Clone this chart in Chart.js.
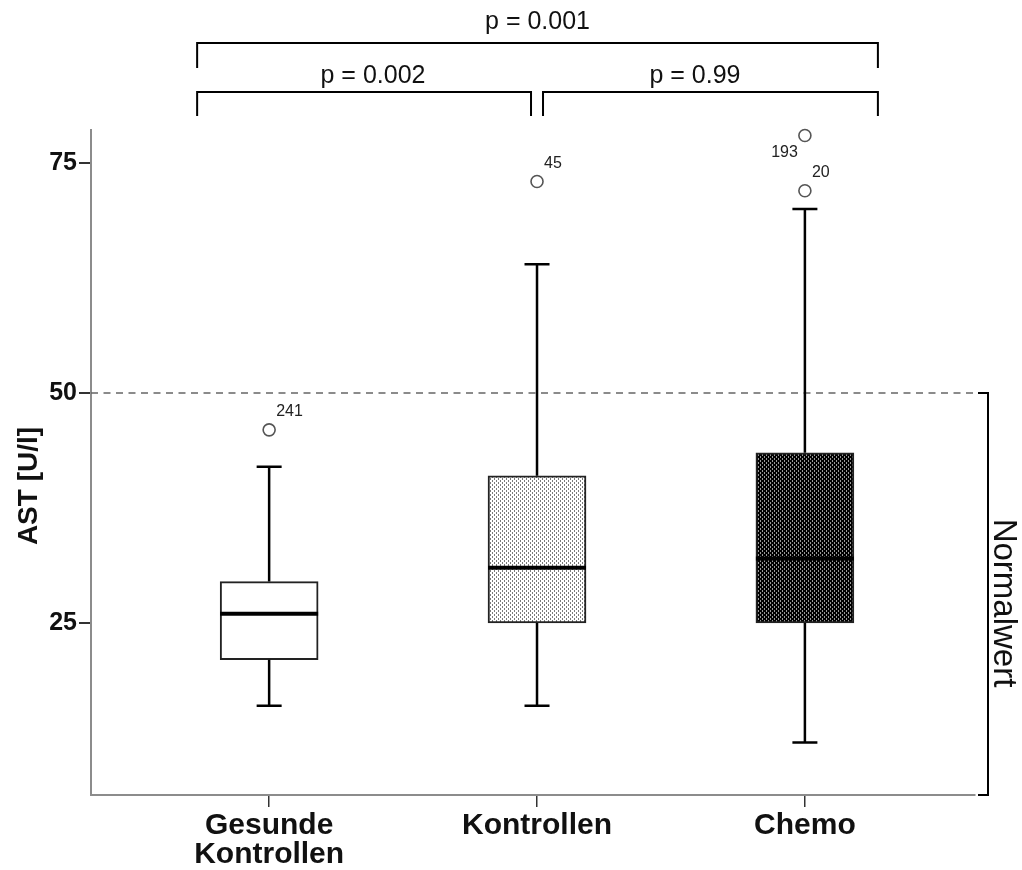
<!DOCTYPE html>
<html><head><meta charset="utf-8">
<script src="https://cdn.jsdelivr.net/npm/chart.js@4.4.1/dist/chart.umd.min.js"></script>
<style>html,body{margin:0;padding:0;background:#fff;}#wrap{width:1022px;height:870px;position:relative;}</style>
</head><body><div id="wrap"><canvas id="c" width="1022" height="870"></canvas></div>
<script>
// ---- data ----
const categories = [['Gesunde', 'Kontrollen'], 'Kontrollen', 'Chemo'];
const whiskerLow = [16, 16, 12];
const q1 = [21, 25, 25];
const median = [26, 31, 32];
const q3 = [29.5, 41, 43.5];
const whiskerHigh = [42, 64, 70];
const outlierGroup = [1, 2, 3, 3];
const outlierValue = [46, 73, 78, 72];
const outlierId = ['241', '45', '193', '20'];
const yTicks = [25, 50, 75];
const normalLimit = 50;
const normalLabel = 'Normalwert';
const comparisons = [[1, 3], [1, 2], [2, 3]];
const pValues = ['p = 0.001', 'p = 0.002', 'p = 0.99'];
const yTitle = 'AST [U/l]';

// ---- styles ----
const FONT = '"Liberation Sans", Arial, sans-serif';
function makePattern(bg, dot) {
  const t = document.createElement('canvas');
  t.width = 4; t.height = 4;
  const g = t.getContext('2d');
  g.fillStyle = bg; g.fillRect(0, 0, 4, 4);
  g.fillStyle = dot;
  g.fillRect(0, 0, 1, 2);
  g.fillRect(2, 2, 1, 2);
  return document.getElementById('c').getContext('2d').createPattern(t, 'repeat');
}
const boxFills = ['#ffffff', makePattern('#ffffff', '#7a7a7a'), makePattern('#000000', '#9a9a9a')];
const labelSide = ['ne', 'ne', 'sw', 'ne'];

const extras = {
  id: 'extras',
  beforeDatasetsDraw(chart) {
    const { ctx, chartArea: a, scales: { y } } = chart;
    const yy = y.getPixelForValue(normalLimit);
    ctx.save();
    ctx.strokeStyle = '#666'; ctx.lineWidth = 1.5; ctx.setLineDash([7, 5.5]);
    ctx.beginPath(); ctx.moveTo(a.left, yy); ctx.lineTo(a.right, yy); ctx.stroke();
    ctx.restore();
  },
  afterDatasetsDraw(chart) {
    const { ctx, chartArea: a, scales: { x, y } } = chart;
    ctx.save();
    ctx.strokeStyle = '#000'; ctx.lineCap = 'butt';
    for (let i = 0; i < q1.length; i++) {
      const cx = x.getPixelForValue(i + 1);
      ctx.lineWidth = 2.5;
      ctx.beginPath();
      ctx.moveTo(cx, y.getPixelForValue(q3[i])); ctx.lineTo(cx, y.getPixelForValue(whiskerHigh[i]));
      ctx.moveTo(cx, y.getPixelForValue(q1[i])); ctx.lineTo(cx, y.getPixelForValue(whiskerLow[i]));
      ctx.moveTo(cx - 12.5, y.getPixelForValue(whiskerHigh[i])); ctx.lineTo(cx + 12.5, y.getPixelForValue(whiskerHigh[i]));
      ctx.moveTo(cx - 12.5, y.getPixelForValue(whiskerLow[i])); ctx.lineTo(cx + 12.5, y.getPixelForValue(whiskerLow[i]));
      ctx.stroke();
      ctx.lineWidth = 4;
      ctx.beginPath();
      ctx.moveTo(cx - 49, y.getPixelForValue(median[i])); ctx.lineTo(cx + 49, y.getPixelForValue(median[i]));
      ctx.stroke();
    }
    // outlier ids
    ctx.fillStyle = '#222'; ctx.font = '16px ' + FONT; ctx.textBaseline = 'middle';
    for (let i = 0; i < outlierId.length; i++) {
      const px = x.getPixelForValue(outlierGroup[i]);
      const py = y.getPixelForValue(outlierValue[i]);
      if (labelSide[i] === 'ne') { ctx.textAlign = 'left'; ctx.fillText(outlierId[i], px + 7, py - 18); }
      else { ctx.textAlign = 'right'; ctx.fillText(outlierId[i], px - 7, py + 17); }
    }
    ctx.restore();
  },
  afterDraw(chart) {
    const { ctx, chartArea: a, scales: { x, y } } = chart;
    ctx.save();
    ctx.strokeStyle = '#000'; ctx.lineWidth = 2; ctx.fillStyle = '#111';
    ctx.font = '25px ' + FONT; ctx.textAlign = 'center'; ctx.textBaseline = 'middle';
    const levels = [{ line: 43, end: 68, text: 22 }, { line: 92, end: 116, text: 76 }];
    const textX = [null, 373, 695];
    comparisons.forEach((c, k) => {
      const lv = k === 0 ? levels[0] : levels[1];
      const l = c[0] === 1 ? x.getPixelForValue(1) - 72 : x.getPixelForValue(c[0]) + 6;
      const r = c[1] === 3 ? x.getPixelForValue(3) + 73 : x.getPixelForValue(c[1]) - 6;
      ctx.beginPath();
      ctx.moveTo(l, lv.end); ctx.lineTo(l, lv.line); ctx.lineTo(r, lv.line); ctx.lineTo(r, lv.end);
      ctx.stroke();
      ctx.fillText(pValues[k], textX[k] !== null ? textX[k] : (l + r) / 2, lv.text);
    });
    // y axis title
    ctx.save();
    ctx.translate(29, 486);
    ctx.rotate(-Math.PI / 2);
    ctx.font = 'bold 28px ' + FONT;
    ctx.fillText(yTitle, 0, 0);
    ctx.restore();
    // Normalwert bracket
    const bx = a.right + 13;
    const top = y.getPixelForValue(normalLimit);
    ctx.beginPath();
    ctx.moveTo(bx - 10, top); ctx.lineTo(bx, top); ctx.lineTo(bx, a.bottom); ctx.lineTo(bx - 10, a.bottom);
    ctx.stroke();
    ctx.translate(bx + 15, 603);
    ctx.rotate(Math.PI / 2);
    ctx.font = '33px ' + FONT;
    ctx.fillText(normalLabel, 0, 0);
    ctx.restore();
  }
};

new Chart(document.getElementById('c'), {
  type: 'bar',
  data: {
    datasets: [
      {
        type: 'bar',
        data: q1.map((v, i) => ({ x: i + 1, y: [q1[i], q3[i]] })),
        backgroundColor: boxFills,
        borderColor: '#222',
        borderWidth: 2,
        borderSkipped: false,
        barThickness: 98,
        grouped: false
      },
      {
        type: 'scatter',
        clip: false,
        data: outlierValue.map((v, i) => ({ x: outlierGroup[i], y: v })),
        pointRadius: 6,
        pointBackgroundColor: '#fff',
        pointBorderColor: '#555',
        pointBorderWidth: 1.6
      }
    ]
  },
  options: {
    responsive: false,
    animation: false,
    devicePixelRatio: 1,
    layout: { padding: { top: 130, right: 47, left: 0, bottom: 0 } },
    plugins: { legend: { display: false }, tooltip: { enabled: false } },
    scales: {
      x: {
        type: 'linear', min: 0.335, max: 3.635, offset: false,
        afterBuildTicks: s => { s.ticks = categories.map((c, i) => ({ value: i + 1 })); },
        afterFit: s => { s.height = 75; },
        grid: { offset: false, drawOnChartArea: false, drawTicks: true, tickLength: 12, color: '#333', lineWidth: 1.5 },
        border: { color: '#8c8c8c', width: 2 },
        ticks: {
          autoSkip: false, maxRotation: 0, padding: 4, color: '#111',
          font: { family: FONT, size: 30, weight: 'bold', lineHeight: 0.98 },
          callback: v => categories[v - 1] !== undefined ? categories[v - 1] : ''
        }
      },
      y: {
        type: 'linear', min: 6.3, max: 78.6,
        afterBuildTicks: s => { s.ticks = yTicks.map(v => ({ value: v })); },
        afterFit: s => { s.width = 91; },
        grid: { drawOnChartArea: false, drawTicks: true, tickLength: 12, color: '#333', lineWidth: 2 },
        border: { color: '#8c8c8c', width: 2 },
        ticks: { padding: 2, color: '#111', font: { family: FONT, size: 25, weight: 'bold' } },
        title: { display: false }
      }
    }
  },
  plugins: [extras]
});
</script></body></html>
